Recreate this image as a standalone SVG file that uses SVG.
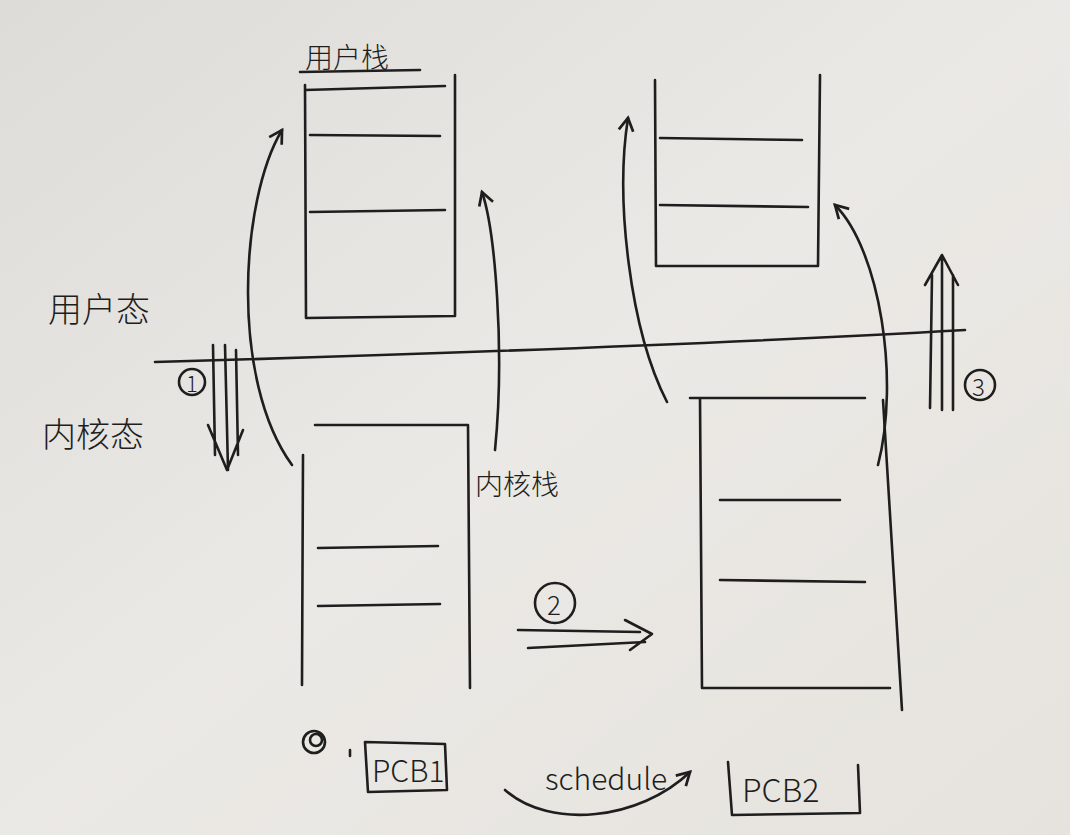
<svg xmlns="http://www.w3.org/2000/svg" width="1070" height="835" viewBox="0 0 1070 835">
<defs>
<style>
.l{fill:none;stroke:#1e1e1e;stroke-width:2.6;stroke-linecap:round;stroke-linejoin:round}
.t{font-family:"Noto Sans CJK SC","Liberation Sans",sans-serif;fill:#1e1e1e;font-weight:300}
</style>
<marker id="a" viewBox="0 0 10 10" refX="8" refY="5" markerWidth="7" markerHeight="7" orient="auto"><path d="M1,1 L8,5 L1,9" fill="none" stroke="#1e1e1e" stroke-width="1.5"/></marker>
<linearGradient id="bg" x1="0" y1="0" x2="1" y2="1"><stop offset="0" stop-color="#dedcd8"/><stop offset="0.5" stop-color="#ebe9e5"/><stop offset="1" stop-color="#e6e3de"/></linearGradient>
</defs>
<rect width="1070" height="835" fill="url(#bg)"/>
<g id="userstack1"><path class="l" d="M305,85 L306,318 L455,316 L455,75 M305,90 L445,86 M310,135 L440,136 M310,212 L445,210"/><text class="t" x="305" y="68" font-size="28">用户栈</text><path class="l" d="M300,72 L420,70"/></g>
<g id="kernelstack1"><path class="l" d="M303,455 L302,685 M315,425 L468,425 L470,688 M318,548 L438,546 M318,606 L440,604"/></g>
<g id="userstack2"><path class="l" d="M655,80 L656,266 L818,266 L820,75 M660,138 L802,140 M660,205 L808,207"/></g>
<g id="kernelstack2"><path class="l" d="M690,398 L865,398 M700,398 L702,688 L890,688 M883,400 L902,710 M720,500 L840,500 M720,580 L865,582"/></g>
<g id="labels">
<text class="t" x="48" y="322" font-size="34">用户态</text>
<text class="t" x="42" y="447" font-size="34">内核态</text>
<text class="t" x="475" y="495" font-size="28">内核栈</text>
</g>
<g id="connectors">
<path class="l" stroke-width="2" d="M155,362 C400,355 700,345 965,330"/>
<circle class="l" cx="192" cy="382" r="13" stroke-width="2"/><text class="t" x="186" y="392" font-size="22">1</text>
<path class="l" d="M213,345 L215,455 M225,345 L228,470 M236,350 L238,455 M208,425 L227,470 L243,430"/>
<path class="l" marker-end="url(#a)" d="M292,465 C230,380 240,200 282,130"/>
<path class="l" marker-end="url(#a)" d="M495,450 C505,350 495,230 482,192"/>
<path class="l" marker-end="url(#a)" d="M667,402 C630,330 615,200 628,118"/>
<path class="l" marker-end="url(#a)" d="M878,465 C900,380 880,250 835,205"/>
<path class="l" d="M930,408 L932,275 M942,410 L942,255 M953,410 L953,275 M925,285 L942,255 L958,285"/>
<circle class="l" cx="980" cy="385" r="15" stroke-width="2"/><text class="t" x="972" y="396" font-size="24">3</text>
<circle class="l" cx="555" cy="603" r="20" stroke-width="2"/><text class="t" x="547" y="615" font-size="26">2</text>
<path class="l" d="M518,630 L640,632 M528,648 L645,642 M625,620 L652,634 L630,650"/>
<path class="l" marker-end="url(#a)" d="M505,790 C550,830 640,820 690,772"/>
</g>
<g id="pcb1"><circle class="l" cx="314" cy="742" r="11"/><circle class="l" cx="316" cy="740" r="6"/><path class="l" d="M350,750 L350,756 M365,742 L368,792 L447,790 L445,744 Z"/><text class="t" x="372" y="782" font-size="30">PCB1</text></g>
<g id="schedule"><text class="t" x="545" y="790" font-size="30" font-family="Liberation Serif,serif">schedule</text></g>
<g id="pcb2"><path class="l" d="M728,762 L732,815 L860,813 L858,765"/><text class="t" x="742" y="802" font-size="32">PCB2</text></g>
</svg>
